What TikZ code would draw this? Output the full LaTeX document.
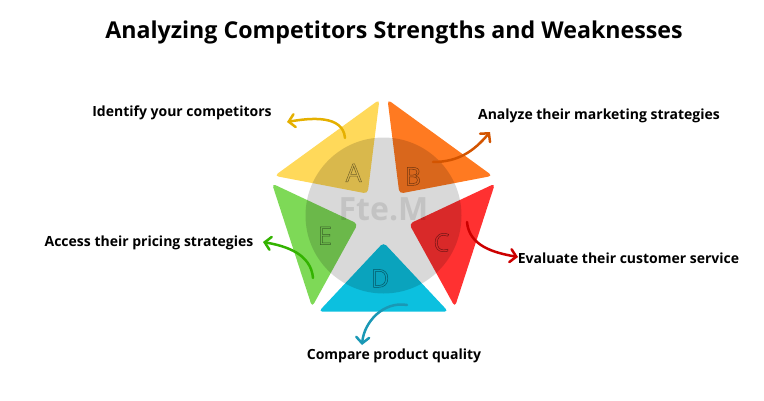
\documentclass[tikz,border=0pt]{standalone}
\usepackage{fontspec}
\setmainfont{Open Sans}
\usetikzlibrary{arrows.meta}

\definecolor{pieceA}{HTML}{FFD95A}
\definecolor{pieceB}{HTML}{FF7A21}
\definecolor{pieceC}{HTML}{FF3131}
\definecolor{pieceD}{HTML}{0CC0DF}
\definecolor{pieceE}{HTML}{7ED957}
\definecolor{arrowA}{HTML}{E5B000}
\definecolor{arrowB}{HTML}{D35400}
\definecolor{arrowC}{HTML}{CC0000}
\definecolor{arrowD}{HTML}{1A98B5}
\definecolor{arrowE}{HTML}{33B300}

% outlined letters (stroke only)
\newcommand{\hollow}[1]{\special{pdf:literal direct 1 Tr 0.5 w}#1\special{pdf:literal direct 0 Tr 0.4 w}}

\begin{document}
\begin{tikzpicture}[
    x=1pt, y=1pt,
    piece/.style={rounded corners=4pt},
    lbl/.style={font=\bfseries\fontsize{14}{16}\selectfont, inner sep=0pt},
    curl/.style={line width=2.5pt, line cap=round, -{Straight Barb[length=6pt, width=13pt, line cap=round]}},
]
\path[use as bounding box] (0,0) rectangle (764,400);

% Title
\node[font=\bfseries\fontsize{23.2}{27}\selectfont] (title) at (394,368) {Analyzing Competitors Strengths and Weaknesses};

% Star pieces
\begin{scope}[shift={(383.5,184.5)}]
\foreach \ang/\col in {126/pieceA, 54/pieceB, -18/pieceC, -90/pieceD, 198/pieceE}{
    \fill[piece, \col] (\ang+34:116) -- (\ang-34:116) -- (\ang:27) -- cycle;
}
\fill[black, opacity=0.15] (0,0) circle (78);
\node[font=\bfseries\fontsize{32}{36}\selectfont, text=black, text opacity=0.1] (mark) at (0,6) {Fte.M};
\foreach \ang/\rad/\col/\txt in {125/52/pieceA/A, 53/49/pieceB/B, -25/64/pieceC/C, -93/63/pieceD/D, 199/62/pieceE/E}{
    \node[font=\fontsize{25}{25}\selectfont, text=\col!45!black] (let\txt) at (\ang:\rad) {\hollow{\txt}};
}
\end{scope}

% Labels
\node[lbl] (lblA) at (182,287) {Identify your competitors};
\node[lbl] (lblB) at (599,284) {Analyze their marketing strategies};
\node[lbl] (lblC) at (628.5,142) {Evaluate their customer service};
\node[lbl] (lblD) at (394,44) {Compare product quality};
\node[lbl] (lblE) at (149,157) {Access their pricing strategies};

% Arrows
\coordinate (tailA) at (345,262); \coordinate (tipA) at (287,278);
\coordinate (tailB) at (433,238); \coordinate (tipB) at (490,268);
\coordinate (tailC) at (467,178); \coordinate (tipC) at (518,143);
\coordinate (tailD) at (407,95);  \coordinate (tipD) at (362,55);
\coordinate (tailE) at (313,122); \coordinate (tipE) at (263,158);
\draw[curl, arrowA] (tailA) to[out=95, in=10] (tipA);
\draw[curl, arrowB] (tailB) to[out=0, in=230] (tipB);
\draw[curl, arrowC] (tailC) to[out=-85, in=170] (tipC);
\draw[curl, arrowD] (tailD) to[out=170, in=85] (tipD);
\draw[curl, arrowE] (tailE) to[out=95, in=-10] (tipE);
\end{tikzpicture}
\end{document}
